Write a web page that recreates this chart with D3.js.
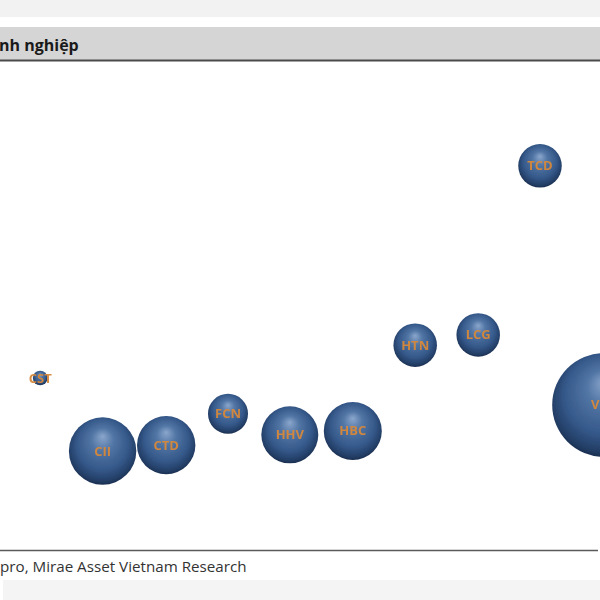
<!DOCTYPE html>
<html>
<head>
<meta charset="utf-8">
<script src="https://cdn.jsdelivr.net/npm/d3@7"></script>
<style>
  html, body { margin: 0; padding: 0; background: #ffffff; }
  svg { display: block; }
</style>
</head>
<body>
<svg id="chart" width="600" height="600"></svg>
<script>
// ---- data ----
const tickers = ["CST", "CII", "CTD", "FCN", "HHV", "HBC", "HTN", "LCG", "TCD", "VCG"];
const xValues = [6.7, 17.1, 27.7, 38.0, 48.3, 58.8, 69.2, 79.7, 90.0, 100.7];
const yValues = [35.1, 20.2, 21.4, 27.8, 23.5, 24.3, 41.8, 43.9, 78.4, 29.6];
const sizeValues = [2.0, 42.0, 31.5, 14.8, 30.0, 31.1, 17.5, 17.5, 17.5, 100];
const titleText = "nh nghiệp";
const sourceText = "pro, Mirae Asset Vietnam Research";

const data = tickers.map((t, i) => ({ name: t, x: xValues[i], y: yValues[i], s: sizeValues[i] }));

const svg = d3.select("#chart");
const W = 600, H = 600;

// background bands
svg.append("rect").attr("x", 0).attr("y", 0).attr("width", W).attr("height", 17).attr("fill", "#f2f2f2");
svg.append("rect").attr("x", 0).attr("y", 27).attr("width", W).attr("height", 33).attr("fill", "#d5d5d5");
svg.append("line").attr("x1", 0).attr("x2", W).attr("y1", 60.5).attr("y2", 60.5)
  .attr("stroke", "#4a4a4a").attr("stroke-width", 2);
svg.append("text").attr("x", -1).attr("y", 51)
  .attr("font-family", "'Open Sans', sans-serif").attr("font-weight", "bold")
  .attr("font-size", 16).attr("fill", "#1a1a1a").text(titleText);

svg.append("line").attr("x1", 0).attr("x2", 598).attr("y1", 550.5).attr("y2", 550.5)
  .attr("stroke", "#5a5a5a").attr("stroke-width", 1.5);
svg.append("text").attr("x", 0).attr("y", 572)
  .attr("font-family", "'Open Sans', sans-serif")
  .attr("font-size", 15.2).attr("fill", "#333333").text(sourceText);
svg.append("rect").attr("x", 3).attr("y", 580).attr("width", W - 3).attr("height", 20).attr("fill", "#f4f4f4");

// gradient for spheres
const defs = svg.append("defs");
const grad = defs.append("radialGradient").attr("id", "sphere")
  .attr("cx", "50%").attr("cy", "45%").attr("r", "55%")
  .attr("fx", "50%").attr("fy", "28%");
grad.append("stop").attr("offset", "0%").attr("stop-color", "#8aa6cc");
grad.append("stop").attr("offset", "30%").attr("stop-color", "#5276a5");
grad.append("stop").attr("offset", "70%").attr("stop-color", "#345889");
grad.append("stop").attr("offset", "92%").attr("stop-color", "#233e66");
grad.append("stop").attr("offset", "100%").attr("stop-color", "#1b2f50");

const blur = defs.append("filter").attr("id", "soft").attr("x", "-20%").attr("y", "-20%").attr("width", "140%").attr("height", "140%");
blur.append("feGaussianBlur").attr("stdDeviation", 0.6);

// scales
const x = d3.scaleLinear().domain([0, 100]).range([0, 600]);
const y = d3.scaleLinear().domain([0, 100]).range([550, 60]);
const r = d3.scaleSqrt().domain([0, 100]).range([0, 52]);

const g = svg.append("g");
const bubbles = g.selectAll("g.b").data(data).join("g").attr("class", "b");

bubbles.append("circle")
  .attr("cx", d => x(d.x)).attr("cy", d => y(d.y)).attr("r", d => r(d.s))
  .attr("fill", "url(#sphere)").attr("filter", "url(#soft)");

bubbles.append("text")
  .attr("x", d => x(d.x)).attr("y", d => y(d.y) + 4.5)
  .attr("text-anchor", "middle")
  .attr("font-family", "'Open Sans', sans-serif").attr("font-weight", "bold")
  .attr("font-size", 13).attr("fill", "#d7883a").attr("opacity", 0.95)
  .text(d => d.name);
</script>
</body>
</html>
